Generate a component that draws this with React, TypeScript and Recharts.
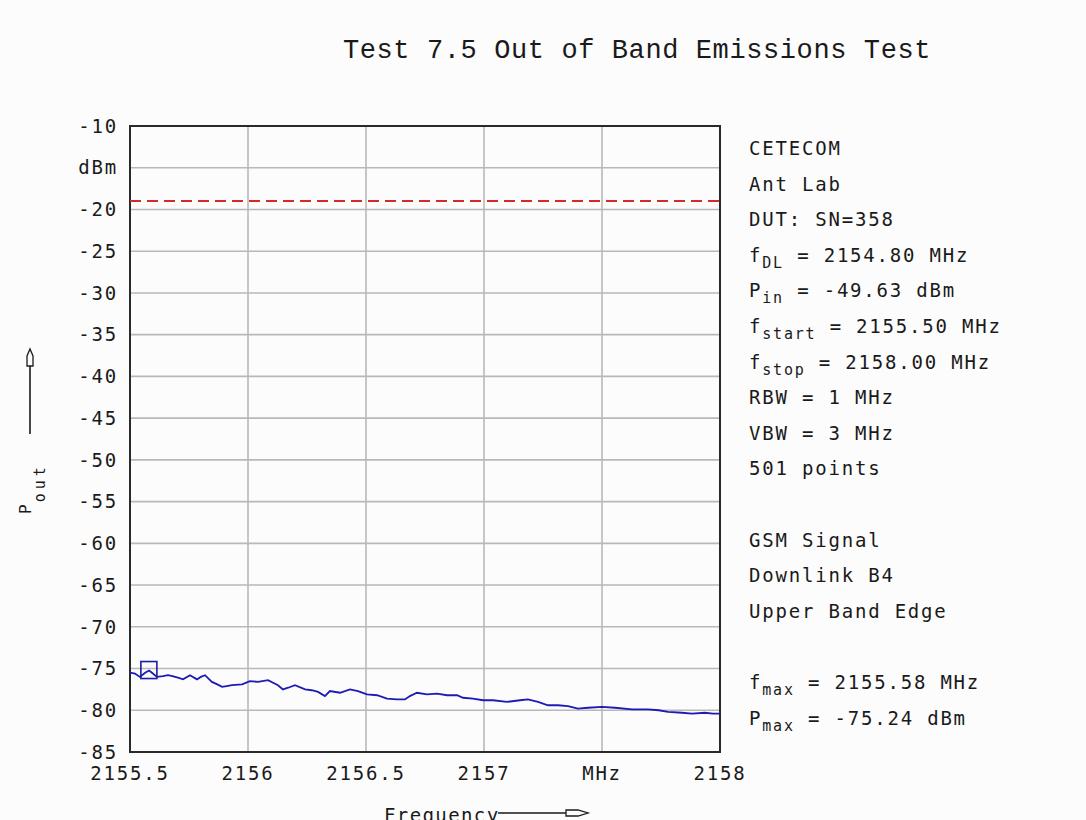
import React from "react";
import {
  LineChart,
  Line,
  XAxis,
  YAxis,
  CartesianGrid,
  ReferenceLine,
  ReferenceArea,
  ReferenceDot,
} from "recharts";

// spectrum trace (MHz / dBm)
const FREQ_MHZ = [
  2155.5, 2155.521, 2155.542, 2155.564, 2155.581, 2155.593, 2155.614, 2155.64,
  2155.661, 2155.68, 2155.703, 2155.725, 2155.754, 2155.784, 2155.8, 2155.818,
  2155.847, 2155.87, 2155.89, 2155.91, 2155.932, 2155.975, 2156.008, 2156.042,
  2156.085, 2156.127, 2156.148, 2156.17, 2156.199, 2156.242, 2156.27, 2156.297,
  2156.326, 2156.347, 2156.39, 2156.432, 2156.466, 2156.504, 2156.547, 2156.589,
  2156.631, 2156.665, 2156.686, 2156.716, 2156.758, 2156.801, 2156.843, 2156.886,
  2156.911, 2156.953, 2156.996, 2157.038, 2157.097, 2157.153, 2157.186, 2157.229,
  2157.271, 2157.314, 2157.356, 2157.398, 2157.441, 2157.5, 2157.555, 2157.627,
  2157.695, 2157.74, 2157.78, 2157.839, 2157.881, 2157.936, 2157.97, 2158.0,
];

const POWER_DBM = [
  -75.5, -75.6, -76.0, -75.5, -75.24, -75.5, -76.0, -75.9, -75.8, -75.9, -76.1,
  -76.3, -75.8, -76.3, -76.0, -75.8, -76.6, -76.9, -77.2, -77.1, -77.0, -76.9,
  -76.5, -76.6, -76.4, -77.0, -77.5, -77.3, -77.0, -77.5, -77.6, -77.8, -78.3,
  -77.7, -77.9, -77.5, -77.7, -78.1, -78.2, -78.6, -78.7, -78.7, -78.3, -77.9,
  -78.1, -78.0, -78.2, -78.2, -78.5, -78.6, -78.8, -78.8, -79.0, -78.8, -78.7,
  -79.0, -79.4, -79.4, -79.5, -79.8, -79.7, -79.6, -79.7, -79.9, -79.9, -80.0,
  -80.2, -80.3, -80.4, -80.3, -80.4, -80.4,
];

const X_TICKS = [2155.5, 2156, 2156.5, 2157, 2157.5, 2158];
const X_UNIT_TICK = 2157.5; // drawn as "MHz"
const Y_TICKS = [
  -85, -80, -75, -70, -65, -60, -55, -50, -45, -40, -35, -30, -25, -20, -15, -10,
];
const Y_UNIT_TICK = -15; // drawn as "dBm"

const LIMIT_DBM = -19;
const PEAK_MHZ = 2155.58;
const PEAK_DBM = -75.24;

// right hand info block: [main, subscript, rest]; null = blank line
const INFO_LINES: ([string, string, string] | null)[] = [
  ["CETECOM", "", ""],
  ["Ant Lab", "", ""],
  ["DUT: SN=358", "", ""],
  ["f", "DL", " = 2154.80 MHz"],
  ["P", "in", " = -49.63 dBm"],
  ["f", "start", " = 2155.50 MHz"],
  ["f", "stop", " = 2158.00 MHz"],
  ["RBW = 1 MHz", "", ""],
  ["VBW = 3 MHz", "", ""],
  ["501 points", "", ""],
  null,
  ["GSM Signal", "", ""],
  ["Downlink B4", "", ""],
  ["Upper Band Edge", "", ""],
  null,
  ["f", "max", " = 2155.58 MHz"],
  ["P", "max", " = -75.24 dBm"],
];

const MONO = "'DejaVu Sans Mono', 'Liberation Mono', monospace";
const INK = "#1a1a1a";

const data = FREQ_MHZ.map((f, i) => ({ f, p: POWER_DBM[i] }));

function MarkerBox(props: any) {
  const { cx, cy } = props;
  if (cx == null || cy == null) return null;
  return (
    <rect
      x={cx - 8}
      y={cy - 9}
      width={16}
      height={17}
      fill="none"
      stroke="#1c1ca8"
      strokeWidth={1.6}
    />
  );
}

function Overlay() {
  return (
    <svg
      width={1086}
      height={820}
      style={{ position: "absolute", left: 0, top: 0, pointerEvents: "none" }}
    >
      <text
        x={637}
        y={58}
        textAnchor="middle"
        fontFamily="'Liberation Mono', monospace"
        fontSize={27}
        letterSpacing={0.6}
        fill={INK}
      >
        Test 7.5 Out of Band Emissions Test
      </text>

      {INFO_LINES.map((ln, i) =>
        ln ? (
          <text
            key={i}
            x={749}
            y={148 + i * 35.6 + 7}
            fontFamily={MONO}
            fontSize={19}
            letterSpacing={1.8}
            fill={INK}
          >
            {ln[0]}
            {ln[1] && (
              <tspan fontSize={15} dy={6}>
                {ln[1]}
              </tspan>
            )}
            {ln[2] && <tspan dy={ln[1] ? -6 : 0}>{ln[2]}</tspan>}
          </text>
        ) : null
      )}

      {/* y axis caption with arrow */}
      <text
        transform="rotate(-90 31 514)"
        x={31}
        y={514}
        fontFamily={MONO}
        fontSize={16}
        letterSpacing={2}
        fill={INK}
      >
        P
        <tspan fontSize={15} dy={14} letterSpacing={4}>
          out
        </tspan>
      </text>
      <line x1={30} y1={434} x2={30} y2={366} stroke={INK} strokeWidth={1.6} />
      <polygon
        points="27,366 33,366 33,356 30,349 27,356"
        fill="none"
        stroke={INK}
        strokeWidth={1.3}
      />

      {/* x axis caption with arrow */}
      <text
        x={384}
        y={822}
        fontFamily={MONO}
        fontSize={19}
        letterSpacing={1.4}
        fill={INK}
      >
        Frequency
      </text>
      <line x1={498} y1={813} x2={566} y2={813} stroke={INK} strokeWidth={1.6} />
      <polygon
        points="566,810 566,816 578,816 588,813 578,810"
        fill="none"
        stroke={INK}
        strokeWidth={1.3}
      />
    </svg>
  );
}

export default function App() {
  return (
    <div
      style={{
        position: "absolute",
        left: 0,
        top: 0,
        width: 1086,
        height: 820,
        background: "#fcfcfc",
        overflow: "hidden",
      }}
    >
      <LineChart
        width={1086}
        height={820}
        data={data}
        margin={{ top: 126, right: 366, bottom: 28, left: 70 }}
      >
        <CartesianGrid stroke="#b8b8b8" strokeWidth={1.6} />
        <XAxis
          dataKey="f"
          type="number"
          domain={[2155.5, 2158]}
          ticks={X_TICKS}
          height={40}
          axisLine={false}
          tickLine={false}
          tickSize={0}
          tickMargin={15}
          tickFormatter={(v: number) => (v === X_UNIT_TICK ? "MHz" : String(v))}
          tick={{
            fill: INK,
            fontFamily: MONO,
            fontSize: 19,
            letterSpacing: 1.8,
          }}
        />
        <YAxis
          type="number"
          domain={[-85, -10]}
          ticks={Y_TICKS}
          width={60}
          axisLine={false}
          tickLine={false}
          tickSize={0}
          tickMargin={12}
          interval={0}
          tickFormatter={(v: number) => (v === Y_UNIT_TICK ? "dBm" : String(v))}
          tick={{
            fill: INK,
            fontFamily: MONO,
            fontSize: 19,
            letterSpacing: 1.8,
          }}
        />
        <ReferenceArea
          x1={2155.5}
          x2={2158}
          y1={-85}
          y2={-10}
          fill="none"
          stroke="#2a2a2a"
          strokeWidth={2}
          fillOpacity={0}
        />
        <ReferenceLine
          y={LIMIT_DBM}
          stroke="#d42a2a"
          strokeWidth={2}
          strokeDasharray="11 6"
        />
        <Line
          type="linear"
          dataKey="p"
          stroke="#1c1cb4"
          strokeWidth={1.8}
          dot={false}
          isAnimationActive={false}
        />
        <ReferenceDot x={PEAK_MHZ} y={PEAK_DBM} r={8} shape={MarkerBox} />
      </LineChart>
      <Overlay />
    </div>
  );
}
